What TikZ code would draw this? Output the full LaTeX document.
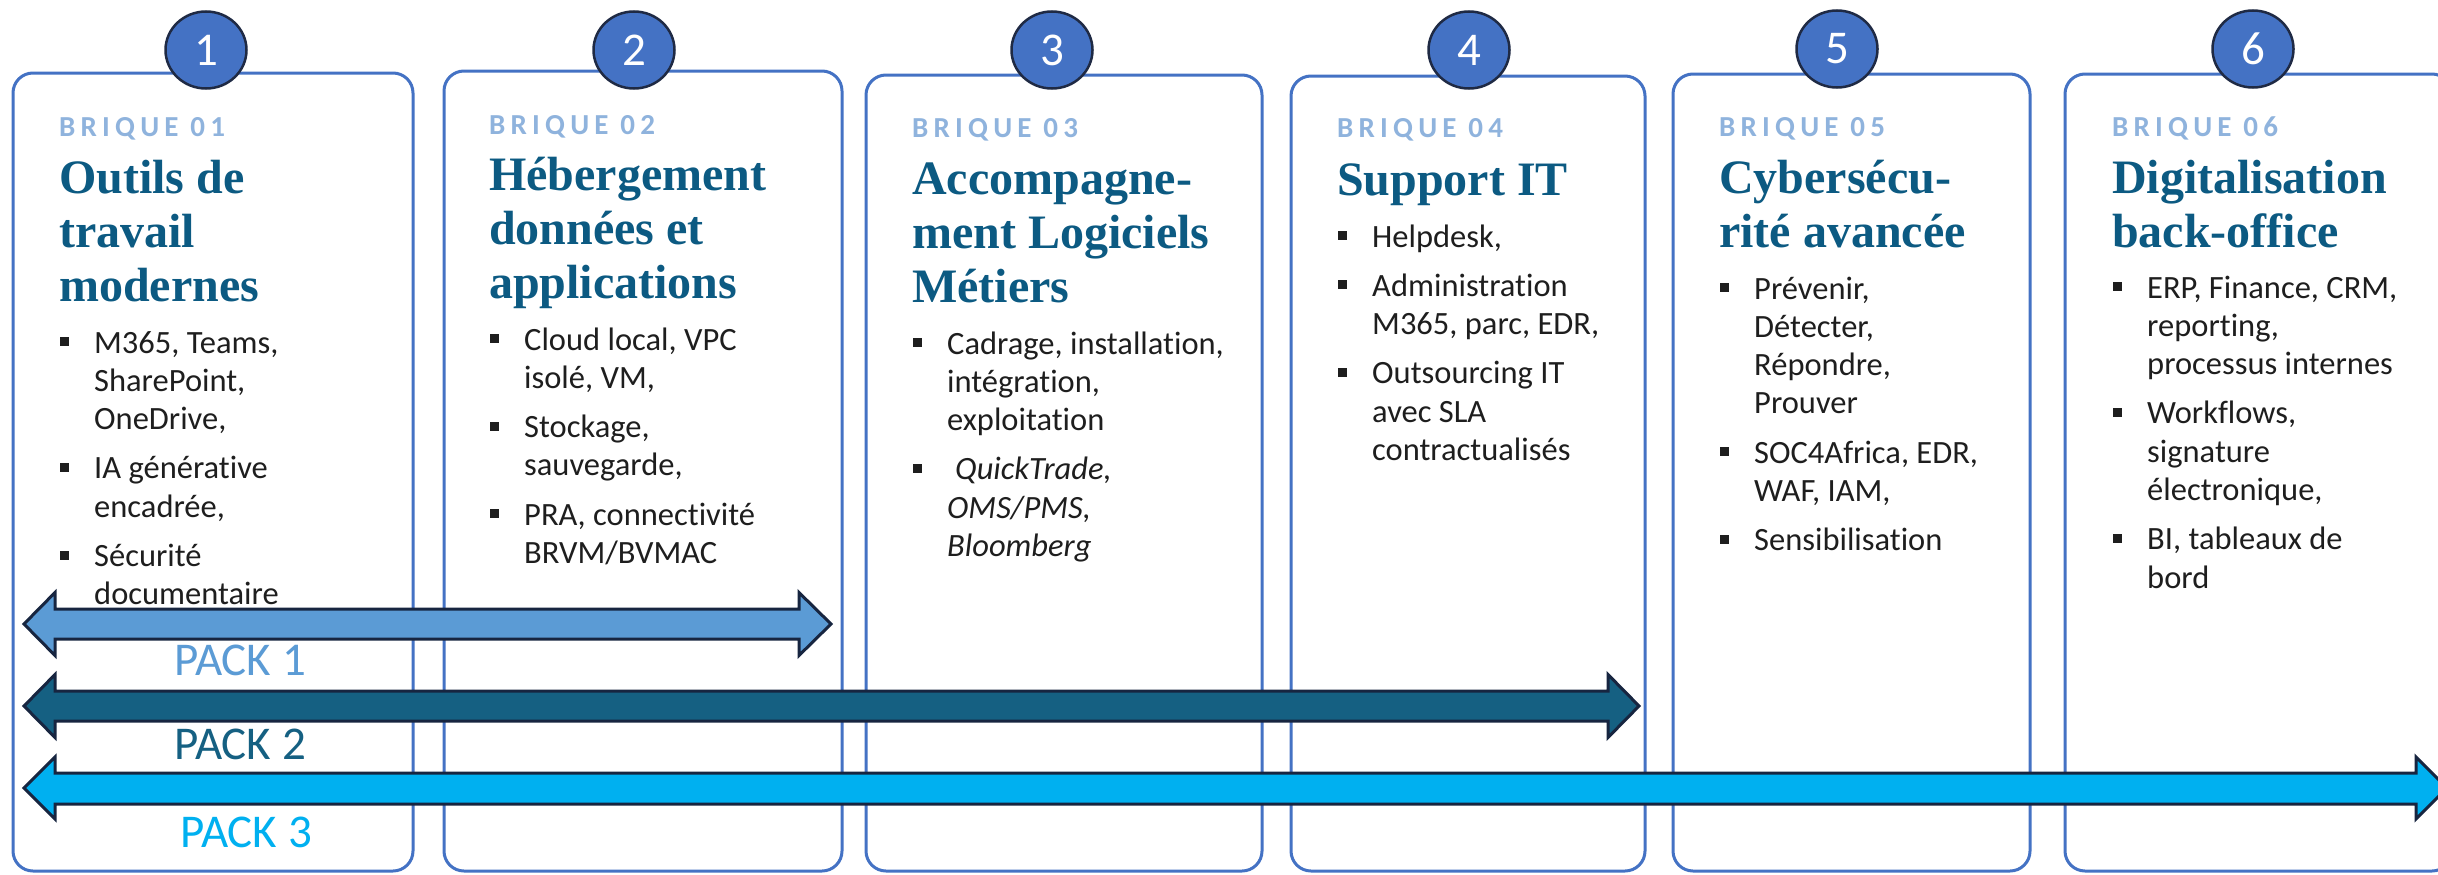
\documentclass[tikz,border=0pt]{standalone}
\usepackage{fontspec}
\setmainfont{Carlito}[Ligatures=NoCommon]
\newfontfamily\ttlfamily{Liberation Serif}
\usetikzlibrary{shapes.geometric}
\definecolor{boxblue}{RGB}{68,114,196}
\definecolor{circedge}{RGB}{31,42,68}
\definecolor{briqc}{RGB}{143,179,221}
\definecolor{ttlc}{RGB}{12,90,130}
\definecolor{bodyc}{RGB}{30,30,30}
\definecolor{pkone}{RGB}{91,155,213}
\definecolor{pktwo}{RGB}{21,96,130}
\definecolor{pkthree}{RGB}{0,176,240}
\definecolor{arredge}{RGB}{23,37,64}
\newcommand{\itm}[1]{\par\noindent\hangindent=34bp\hangafter=1\makebox[34bp][l]{\raisebox{7bp}{\rule{9bp}{9bp}}}#1}
\newcommand{\blist}[1]{\parbox[t]{420bp}{\raggedright\fontsize{32.5bp}{38.3bp}\selectfont\parskip=11bp #1}}
\newcommand{\tlist}[1]{\parbox[t]{420bp}{\raggedright\ttlfamily\bfseries\fontsize{48bp}{54bp}\selectfont #1}}
\begin{document}
\begin{tikzpicture}[x=1bp,y=-1bp,
  boxst/.style={draw=boxblue,line width=3bp,rounded corners=20bp},
  numst/.style={ellipse,draw=circedge,fill=boxblue,line width=2.5bp,minimum width=81bp,minimum height=77bp,inner sep=0pt,text=white,font=\fontsize{47bp}{50bp}\selectfont},
  briqst/.style={anchor=base west,inner sep=0pt,text=briqc,font=\bfseries\fontsize{29bp}{34bp}\selectfont\addfontfeatures{LetterSpace=18}},
  ttlst/.style={anchor=base west,inner sep=0pt,text=ttlc},
  bodyst/.style={anchor=base west,inner sep=0pt,text=bodyc},
  arrst/.style={draw=arredge,line width=3bp,line join=miter},
  packst/.style={anchor=base,inner sep=0pt,font=\fontsize{47bp}{50bp}\selectfont}]
\useasboundingbox (0,0) rectangle (2438,874);
\fill[white] (0,0) rectangle (2438,874);
% boxes
\draw[boxst] (13,73) rectangle (413,871);
\draw[boxst] (444,71) rectangle (842,871);
\draw[boxst] (866,75) rectangle (1262,871);
\draw[boxst] (1291,76) rectangle (1645,871);
\draw[boxst] (1673,74) rectangle (2030,871);
\draw[boxst] (2065,74) rectangle (2452,871);
% numbers
\node[numst] (n1) at (206,50) {1};
\node[numst] (n2) at (634,50) {2};
\node[numst] (n3) at (1052,50) {3};
\node[numst] (n4) at (1469,50) {4};
\node[numst] (n5) at (1837,49) {5};
\node[numst] (n6) at (2253,49) {6};
% column 1
\node[briqst] (q1) at (59,136) {BRIQUE 01};
\node[ttlst] (t1) at (59,193) {\tlist{Outils de\\travail\\modernes}};
\node[bodyst] (l1) at (60,353) {\blist{\itm{M365, Teams,\newline SharePoint,\newline OneDrive,}\itm{IA générative\newline encadrée,}\itm{Sécurité\newline documentaire}}};
% column 2
\node[briqst] (q2) at (489,134) {BRIQUE 02};
\node[ttlst] (t2) at (489,190) {\tlist{Hébergement\\données et\\applications}};
\node[bodyst] (l2) at (490,350) {\blist{\itm{Cloud local, VPC\newline isolé, VM,}\itm{Stockage,\newline sauvegarde,}\itm{PRA, connectivité\newline BRVM/BVMAC}}};
% column 3
\node[briqst] (q3) at (912,137) {BRIQUE 03};
\node[ttlst] (t3) at (912,194) {\tlist{Accompagne-\\ment Logiciels\\Métiers}};
\node[bodyst] (l3) at (913,354) {\blist{\itm{Cadrage, installation,\newline intégration,\newline exploitation}\itm{{\itshape\hspace{8bp}QuickTrade,\newline OMS/PMS,\newline Bloomberg}}}};
% column 4
\node[briqst] (q4) at (1337,137) {BRIQUE 04};
\node[ttlst] (t4) at (1337,195) {\tlist{Support IT}};
\node[bodyst] (l4) at (1338,247) {\blist{\itm{Helpdesk,}\itm{Administration\newline M365, parc, EDR,}\itm{Outsourcing IT\newline avec SLA\newline contractualisés}}};
% column 5
\node[briqst] (q5) at (1719,136) {BRIQUE 05};
\node[ttlst] (t5) at (1719,193) {\tlist{Cybersécu-\\rité avancée}};
\node[bodyst] (l5) at (1720,299) {\blist{\itm{Prévenir,\newline Détecter,\newline Répondre,\newline Prouver}\itm{SOC4Africa, EDR,\newline WAF, IAM,}\itm{Sensibilisation}}};
% column 6
\node[briqst] (q6) at (2112,136) {BRIQUE 06};
\node[ttlst] (t6) at (2112,193) {\tlist{Digitalisation\\back-office}};
\node[bodyst] (l6) at (2113,298) {\blist{\itm{ERP, Finance, CRM,\newline reporting,\newline processus internes}\itm{Workflows,\newline signature\newline électronique,}\itm{BI, tableaux de\newline bord}}};
% pack arrows
\filldraw[arrst,fill=pkone] (24,624) -- (55,592.5) -- (55,609) -- (799,609) -- (799,592.5) -- (831,624) -- (799,655.5) -- (799,639) -- (55,639) -- (55,655.5) -- cycle;
\filldraw[arrst,fill=pktwo] (24,706) -- (55,674.5) -- (55,691) -- (1608,691) -- (1608,674.5) -- (1639,706) -- (1608,737.5) -- (1608,721) -- (55,721) -- (55,737.5) -- cycle;
\filldraw[arrst,fill=pkthree] (24,788) -- (55,757) -- (55,773) -- (2416,773) -- (2416,757) -- (2447,788) -- (2416,819) -- (2416,804) -- (55,804) -- (55,819) -- cycle;
\node[packst,text=pkone] (p1) at (240,675) {PACK 1};
\node[packst,text=pktwo] (p2) at (240,759) {PACK 2};
\node[packst,text=pkthree] (p3) at (246,847) {PACK 3};
\end{tikzpicture}
\end{document}
